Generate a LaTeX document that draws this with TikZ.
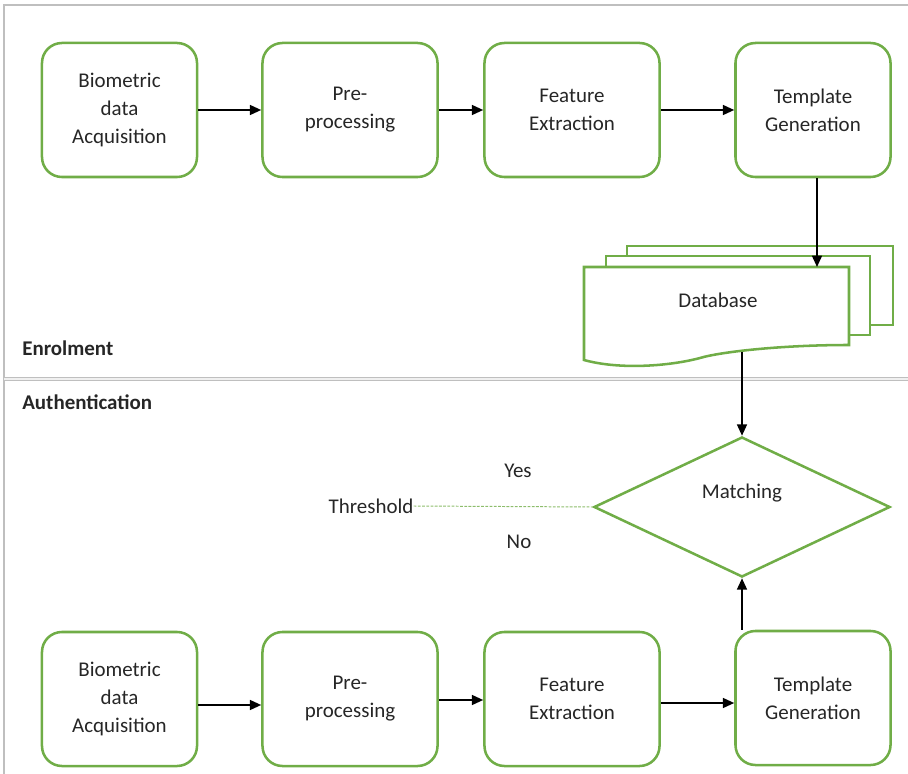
\documentclass[tikz,border=0pt]{standalone}
\usepackage{fontspec}
\setmainfont{Carlito}
\usetikzlibrary{arrows.meta,shapes.geometric,positioning}
\definecolor{grn}{HTML}{70AD47}
\definecolor{frm}{HTML}{BFBFBF}
\definecolor{txt}{HTML}{262626}
\tikzset{
  stage/.style={draw=grn, line width=1.8pt, rounded corners=0.5cm, minimum height=3.35cm,
    align=center, inner sep=0pt, text=txt},
  narrow/.style={stage, minimum width=3.875cm},
  wide/.style={stage, minimum width=4.375cm},
  flow/.style={-{Triangle[length=8pt,width=7pt]}, line width=1.3pt},
  page/.style={draw=grn, line width=1.8pt, fill=white},
  tag/.style={text=txt, inner sep=0pt},
}
\begin{document}
\begin{tikzpicture}[x=0.025cm, y=-0.025cm, font=\fontsize{14.9}{20}\selectfont]
	\useasboundingbox (0,0) rectangle (908,774);

	% frame and separator
	\draw[frm, line width=1.2pt] (4,774) -- (4,5) -- (908,5);
	\draw[frm, line width=0.8pt, double=gray!12, double distance=1.6pt] (4,379) -- (908,379);
	\node[tag, anchor=west, font=\fontsize{14.9}{20}\selectfont\bfseries] (enr) at (22,348) {Enrolment};
	\node[tag, anchor=west, font=\fontsize{14.9}{20}\selectfont\bfseries] (aut) at (22,402) {Authentication};

	% enrolment row
	\node[narrow] (acq1) at (119.5,110) {Biometric\\data\\Acquisition};
	\node[wide] (pre1) at (350,110) {Pre-\\processing};
	\node[wide] (fex1) at (572,110) {Feature\\Extraction};
	\node[narrow] (tg1) at (813,110) {Template\\Generation};

	\draw[flow] (acq1) -- (pre1);
	\draw[flow] (pre1) -- (fex1);
	\draw[flow] (fex1) -- (tg1);

	% database stack
	\draw[page] (627,256) -- (627,246) -- (893,246) -- (893,325) -- (870,325);
	\draw[page] (606,267) -- (606,256) -- (870,256) -- (870,335) -- (849,335);
	\draw[page] (584,267) -- (849,267) -- (849,345)
		.. controls (780,345) and (720,352) .. (700,358)
		.. controls (670,366) and (620,370) .. (584,360) -- cycle;
	\node[tag] (db) at (718,300) {Database};
	\coordinate (dbin) at (817,267);
	\coordinate (dbout) at (742,352);

	\draw[flow] (tg1.south -| dbin) -- (dbin);

	% matching
	\node[diamond, draw=grn, line width=1.8pt, minimum width=7.4cm, minimum height=3.5cm,
		inner sep=0pt, text=txt] (match) at (742,507) {\raisebox{0.8cm}{Matching}};
	\draw[flow] (dbout) -- (match.north);

	\node[tag] (thr) at (371,506) {Threshold};
	\draw[grn!80, dashed, line width=0.7pt, dash pattern=on 2pt off 1pt] (thr.east) -- (match.west);
	\node[tag] (yes) at (518,471) {Yes};
	\node[tag] (no) at (519,542) {No};

	% authentication row
	\node[narrow] (acq2) at (119.5,699) {Biometric\\data\\Acquisition};
	\node[wide] (pre2) at (350,699) {Pre-\\processing};
	\node[wide] (fex2) at (572,699) {Feature\\Extraction};
	\node[narrow] (tg2) at (813,698) {Template\\Generation};

	\draw[flow] (acq2.east |- 0,705) -- (pre2.west |- 0,705);
	\draw[flow] (pre2.east |- 0,700) -- (fex2.west |- 0,700);
	\draw[flow] (fex2.east |- 0,703) -- (tg2.west |- 0,703);
	\draw[flow] (match.south |- tg2.north) -- (match.south);
\end{tikzpicture}
\end{document}
